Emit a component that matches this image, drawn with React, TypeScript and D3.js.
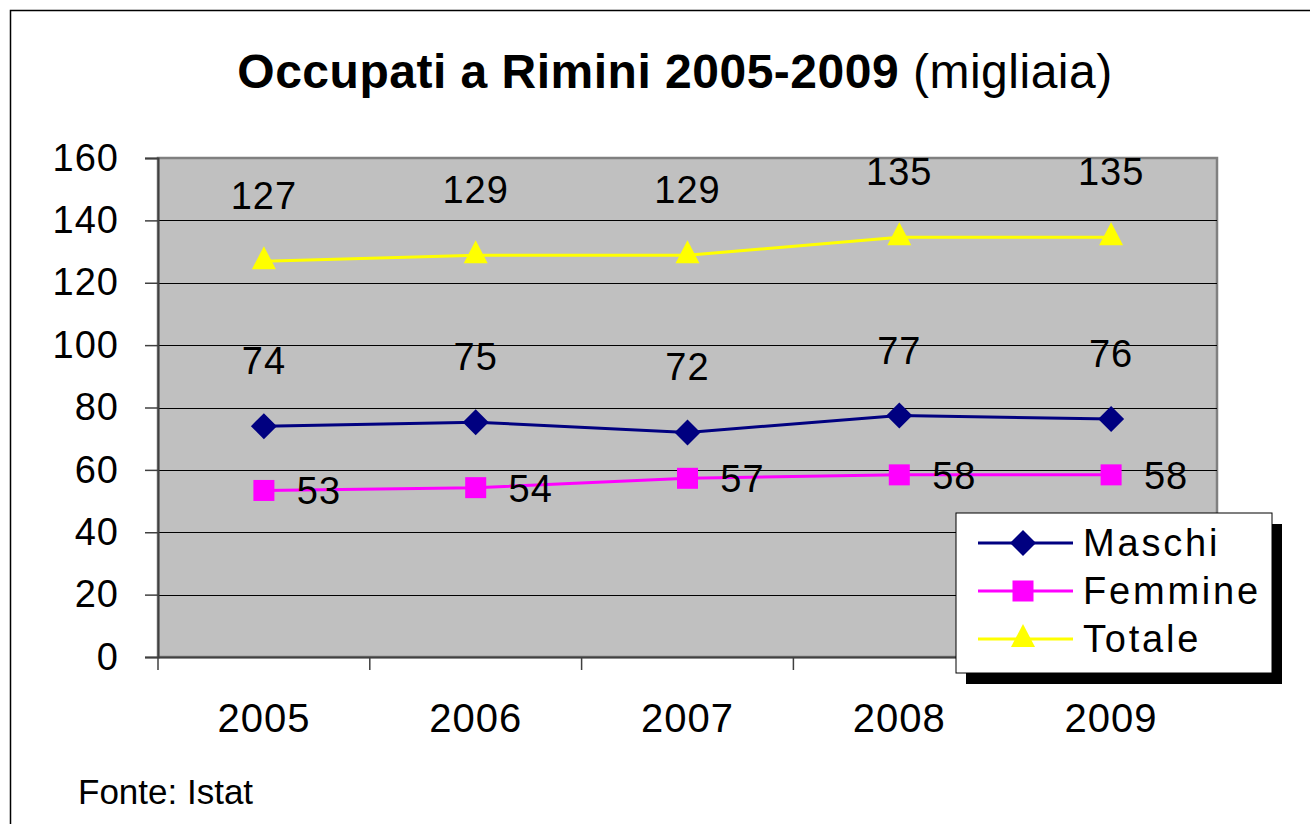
import React, { useEffect, useRef } from "react";
import * as d3 from "d3";

const years = ["2005", "2006", "2007", "2008", "2009"];
const maschi = [74, 75.3, 72, 77.4, 76.3];
const femmine = [53.4, 54.3, 57.3, 58.4, 58.4];
const totale = [126.9, 128.8, 128.8, 134.6, 134.6];
const yTicks = [0, 20, 40, 60, 80, 100, 120, 140, 160];

const seriesList = [
  { name: "Maschi", values: maschi, color: "#000080", marker: "diamond", labelPos: "above" },
  { name: "Femmine", values: femmine, color: "#FF00FF", marker: "square", labelPos: "right" },
  { name: "Totale", values: totale, color: "#FFFF00", marker: "triangle", labelPos: "above" }
];

const FONT = "'Liberation Sans', Arial, sans-serif";

function drawMarker(g, type, cx, cy, color) {
  if (type === "diamond") {
    g.append("path")
      .attr("d", `M${cx},${cy - 13}L${cx + 13},${cy}L${cx},${cy + 13}L${cx - 13},${cy}Z`)
      .attr("fill", color);
  } else if (type === "square") {
    g.append("rect")
      .attr("x", cx - 10.5).attr("y", cy - 10.5)
      .attr("width", 21).attr("height", 21)
      .attr("fill", color);
  } else {
    g.append("path")
      .attr("d", `M${cx},${cy - 15}L${cx + 12},${cy + 8}L${cx - 12},${cy + 8}Z`)
      .attr("fill", color);
  }
}

export default function App() {
  const ref = useRef(null);

  useEffect(() => {
    const svg = d3.select(ref.current);
    svg.selectAll("*").remove();

    const plot = { left: 158, top: 158, right: 1217, bottom: 657 };

    // outer frame
    svg.append("rect")
      .attr("x", 10.5).attr("y", 10.5)
      .attr("width", 1320).attr("height", 840)
      .attr("fill", "#fff").attr("stroke", "#000").attr("stroke-width", 1.5);

    // title
    const title = svg.append("text")
      .attr("x", 675).attr("y", 88)
      .attr("text-anchor", "middle")
      .style("font-family", FONT).style("font-size", "48px").style("letter-spacing", "0.5px");
    title.append("tspan").attr("font-weight", "bold").text("Occupati a Rimini 2005-2009");
    title.append("tspan").text(" (migliaia)");

    const x = d3.scaleBand().domain(years).range([plot.left, plot.right]);
    const y = d3.scaleLinear().domain([0, 160]).range([plot.bottom, plot.top]);

    // plot area
    svg.append("rect")
      .attr("x", plot.left).attr("y", plot.top)
      .attr("width", plot.right - plot.left).attr("height", plot.bottom - plot.top)
      .attr("fill", "#C0C0C0").attr("stroke", "#808080").attr("stroke-width", 2.5);

    // gridlines
    svg.append("g").selectAll("line")
      .data(yTicks.filter(t => t > 0 && t < 160))
      .join("line")
      .attr("x1", plot.left).attr("x2", plot.right)
      .attr("y1", d => Math.round(y(d)) + 0.5).attr("y2", d => Math.round(y(d)) + 0.5)
      .attr("stroke", "#000").attr("stroke-width", 1);

    // axes
    const yAxis = svg.append("g")
      .attr("transform", `translate(${plot.left},0)`)
      .call(d3.axisLeft(y).tickValues(yTicks).tickSize(13).tickPadding(26));
    yAxis.select(".domain").attr("stroke", "#404040").attr("stroke-width", 2);
    yAxis.selectAll(".tick line").attr("stroke", "#404040").attr("stroke-width", 1.5);
    yAxis.selectAll("text")
      .style("font-family", FONT).style("font-size", "38px").style("letter-spacing", "1px").attr("fill", "#000");

    const xAxis = svg.append("g")
      .attr("transform", `translate(0,${plot.bottom})`)
      .call(d3.axisBottom(x).tickSize(0).tickPadding(0));
    xAxis.select(".domain").attr("stroke", "#404040").attr("stroke-width", 2);
    xAxis.selectAll("text")
      .attr("y", 75).attr("dy", 0)
      .style("font-family", FONT).style("font-size", "40px").style("letter-spacing", "1px").attr("fill", "#000");
    const bounds = years.map(yr => x(yr)).concat([plot.right]);
    xAxis.append("g").selectAll("line")
      .data(bounds)
      .join("line")
      .attr("x1", d => d).attr("x2", d => d)
      .attr("y1", 0).attr("y2", 13)
      .attr("stroke", "#404040").attr("stroke-width", 1.5);

    const cx = (i) => x(years[i]) + x.bandwidth() / 2;
    const line = d3.line().x((d, i) => cx(i)).y(d => y(d));

    seriesList.forEach(s => {
      const g = svg.append("g");
      g.append("path")
        .attr("d", line(s.values))
        .attr("fill", "none").attr("stroke", s.color).attr("stroke-width", 3);
      s.values.forEach((v, i) => drawMarker(g, s.marker, cx(i), y(v), s.color));
      s.values.forEach((v, i) => {
        const t = g.append("text")
          .style("font-family", FONT).style("font-size", "38px").style("letter-spacing", "1px").attr("fill", "#000")
          .text(d3.format(".0f")(v));
        if (s.labelPos === "above") {
          t.attr("x", cx(i)).attr("y", y(v) - 52).attr("text-anchor", "middle");
        } else {
          t.attr("x", cx(i) + 55).attr("y", y(v) + 14).attr("text-anchor", "middle");
        }
      });
    });

    // legend
    const lg = svg.append("g");
    lg.append("rect").attr("x", 966).attr("y", 524).attr("width", 316).attr("height", 160).attr("fill", "#000");
    lg.append("rect").attr("x", 956).attr("y", 513).attr("width", 316).attr("height", 160)
      .attr("fill", "#fff").attr("stroke", "#000").attr("stroke-width", 1);
    seriesList.forEach((s, i) => {
      const ry = 543 + i * 48;
      lg.append("line").attr("x1", 978).attr("x2", 1073).attr("y1", ry).attr("y2", ry)
        .attr("stroke", s.color).attr("stroke-width", 3);
      drawMarker(lg, s.marker, 1023, ry, s.color);
      lg.append("text").attr("x", 1083).attr("y", ry + 13)
        .style("font-family", FONT).style("font-size", "38px").style("letter-spacing", "2.8px").attr("fill", "#000")
        .text(s.name);
    });

    // source
    svg.append("text").attr("x", 78).attr("y", 804)
      .style("font-family", FONT).style("font-size", "35px").attr("fill", "#000")
      .text("Fonte: Istat");
  }, []);

  return (
    <svg ref={ref} width={1310} height={824}
      style={{ position: "fixed", left: 0, top: 0, display: "block", background: "#fff" }} />
  );
}
